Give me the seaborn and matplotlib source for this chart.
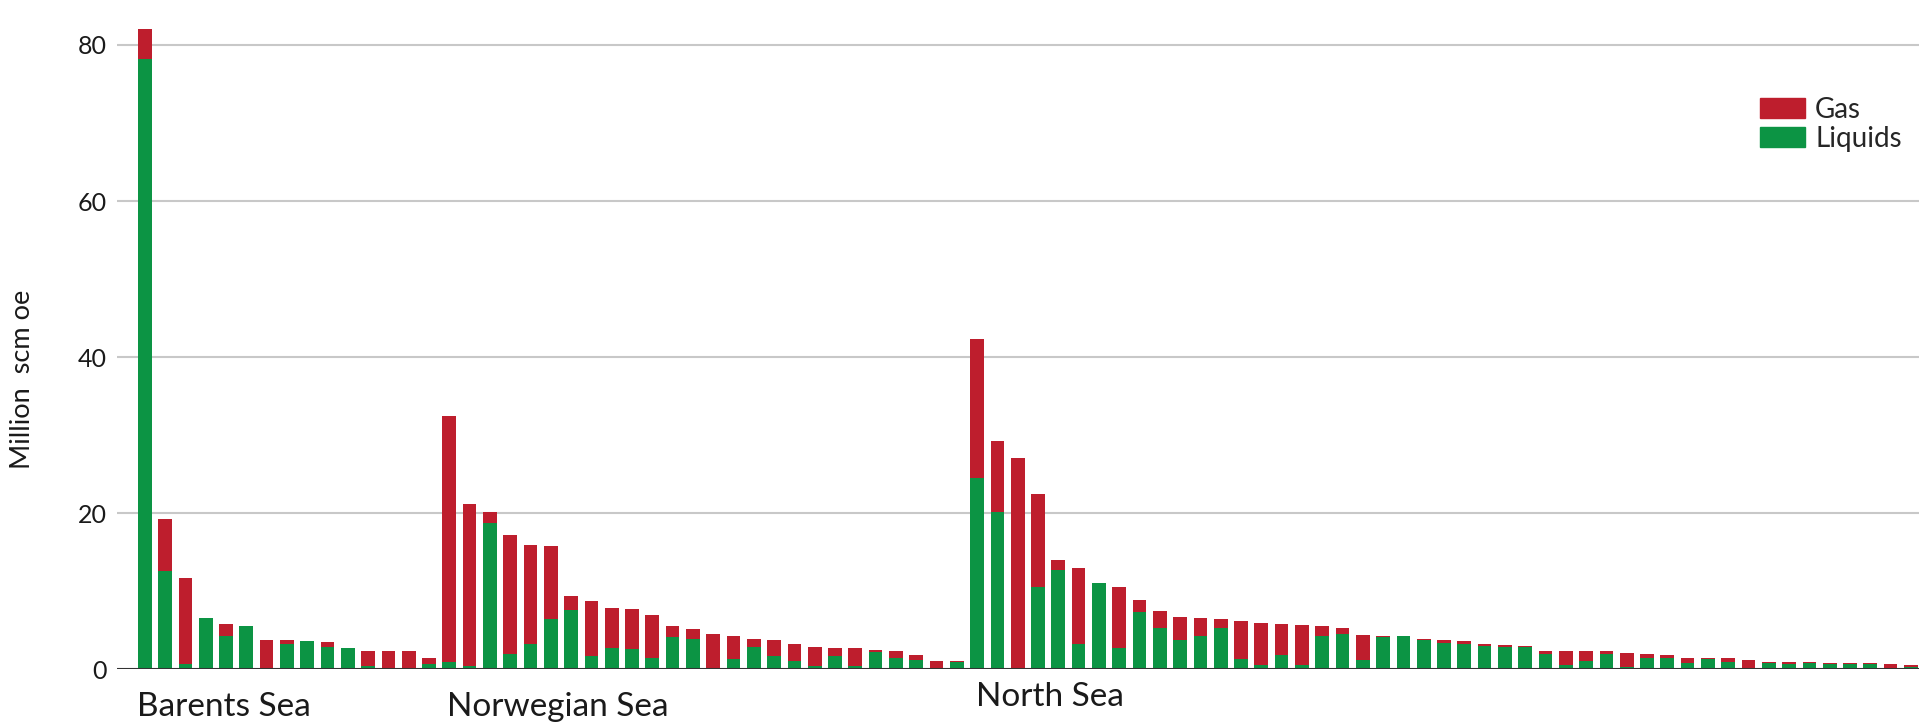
import matplotlib
matplotlib.use('Agg')
import matplotlib.pyplot as plt
import matplotlib.patches as mpatches
import seaborn as sns
import pandas as pd

# field reserves, million scm oe (total and liquids share), sorted per sea
barents_total = [82.1, 19.3, 11.7, 6.6, 5.8, 5.5, 3.8, 3.7, 3.6, 3.5, 2.7, 2.4, 2.4, 2.3, 1.5]
barents_liquids = [78.2, 12.6, 0.7, 6.6, 4.2, 5.5, 0.0, 3.2, 3.6, 2.9, 2.7, 0.4, 0.2, 0.2, 0.7]

norwegian_total = [32.5, 21.2, 20.1, 17.2, 15.9, 15.8, 9.4, 8.8, 7.8, 7.7, 7.0, 5.5, 5.2,
                   4.5, 4.2, 3.9, 3.8, 3.2, 2.9, 2.7, 2.7, 2.5, 2.4, 1.8, 1.1, 1.0]
norwegian_liquids = [0.9, 0.4, 18.8, 2.0, 3.3, 6.5, 7.6, 1.7, 2.7, 2.6, 1.5, 4.1, 3.9,
                     0.2, 1.3, 2.8, 1.7, 1.0, 0.4, 1.7, 0.4, 2.2, 1.5, 1.2, 0.0, 0.9]

north_total = [42.3, 29.2, 27.1, 22.4, 14.0, 13.0, 11.1, 10.6, 8.9, 7.5, 6.7, 6.6, 6.5, 6.2,
               5.9, 5.8, 5.7, 5.6, 5.3, 4.4, 4.3, 4.2, 3.9, 3.7, 3.6, 3.3, 3.1, 3.0, 2.4,
               2.4, 2.3, 2.3, 2.1, 1.9, 1.8, 1.5, 1.4, 1.4, 1.2, 0.9, 0.9, 0.9, 0.8, 0.8,
               0.8, 0.7, 0.5]
north_liquids = [24.5, 20.2, 0.0, 10.5, 12.7, 3.3, 11.1, 2.7, 7.4, 5.3, 3.8, 4.2, 5.3, 1.3,
                 0.5, 1.8, 0.6, 4.3, 4.5, 1.2, 4.1, 4.2, 3.7, 3.4, 3.3, 3.0, 2.8, 2.8, 2.0,
                 0.6, 1.1, 1.9, 0.3, 1.5, 1.4, 0.8, 1.3, 0.9, 0.1, 0.8, 0.7, 0.8, 0.7, 0.7,
                 0.7, 0.1, 0.3]

seas = ['Barents Sea', 'Norwegian Sea', 'North Sea']
yticks = [0, 20, 40, 60, 80]

GAS = '#BE1E2D'
LIQ = '#0C9444'


def main():
    sns.set_style('white')
    plt.rcParams['font.family'] = ['Lato', 'DejaVu Sans']

    total = barents_total + norwegian_total + north_total
    liquids = barents_liquids + norwegian_liquids + north_liquids
    df = pd.DataFrame({'field': range(len(total)), 'total': total, 'liquids': liquids})

    fig = plt.figure(figsize=(19.2, 7.24), dpi=100)
    ax = fig.add_axes([0.0608, 0.0756, 0.9387, 0.9054])

    sns.barplot(data=df, x='field', y='total', color=GAS, saturation=1, width=0.675,
                linewidth=0, ax=ax)
    sns.barplot(data=df, x='field', y='liquids', color=LIQ, saturation=1, width=0.675,
                linewidth=0, ax=ax)

    ax.set_xlim(-1.38, 87.4)
    ax.set_ylim(0, 84)
    ax.set_yticks(yticks)
    ax.set_xticks([])
    ax.set(xlabel='', ylabel='')
    ax.yaxis.grid(True, color='#c8c8c8', lw=1.5)
    ax.set_axisbelow(True)
    ax.axhline(0, color='#333333', lw=2.2, zorder=5)
    sns.despine(ax=ax, left=True, bottom=True)
    ax.tick_params(axis='y', length=0, pad=7, labelsize=18, labelcolor='#1a1a1a')

    # sea labels under the first bar of each group
    starts = [0, len(barents_total), len(barents_total) + len(norwegian_total)]
    offsets = [-0.37, -0.13, -0.05]
    heights = [-6.0, -6.0, -4.7]
    for name, s, off, h in zip(seas, starts, offsets, heights):
        ax.text(s + off, h, name, ha='left', va='baseline', fontsize=24,
                color='#1a1a1a', clip_on=False)

    fig.text(0.0115, 0.476, 'Million  scm oe', rotation=90, ha='center', va='center',
             fontsize=19.5, color='#1a1a1a')

    handles = [mpatches.Patch(color=GAS, label='Gas'), mpatches.Patch(color=LIQ, label='Liquids')]
    fig.legend(handles=handles, loc='upper left', bbox_to_anchor=(0.9167, 0.8665),
               frameon=False, fontsize=20, handlelength=1.62, handleheight=0.72,
               handletextpad=0.36, labelspacing=0.12, borderpad=0, borderaxespad=0)

    fig.savefig('out.png', dpi=100)


if __name__ == '__main__':
    main()
